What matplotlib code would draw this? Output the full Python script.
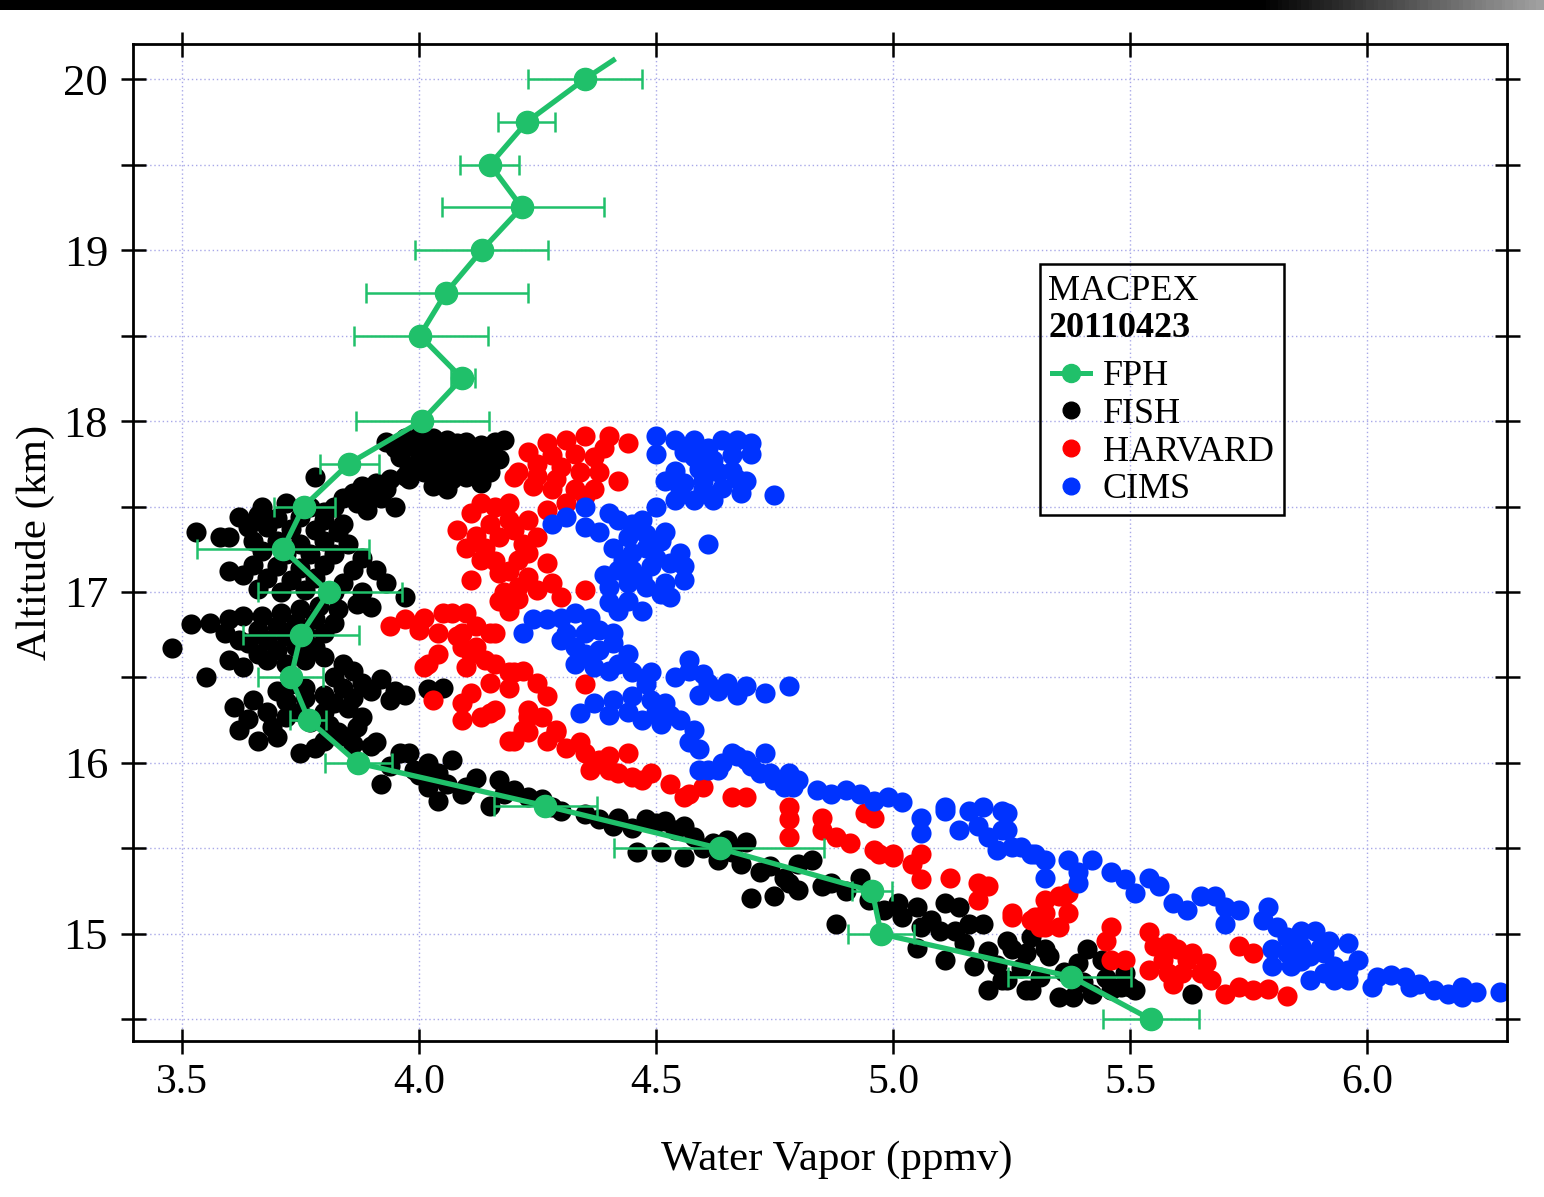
import matplotlib.pyplot as plt
import numpy as np
from matplotlib.colors import LinearSegmentedColormap
from matplotlib.lines import Line2D
from matplotlib.patches import Rectangle

plt.rcParams['font.family'] = ['Liberation Serif', 'DejaVu Serif']

# FPH frost point hygrometer profile: altitude (km), water vapor (ppmv), error bar bounds
fph_alt = [14.5, 14.75, 15.0, 15.25, 15.5, 15.75, 16.0, 16.25, 16.5, 16.75, 17.0, 17.25,
           17.5, 17.75, 18.0, 18.25, 18.5, 18.75, 19.0, 19.25, 19.5, 19.75, 20.0]
fph_wv = [5.544, 5.376, 4.975, 4.956, 4.635, 4.266, 3.871, 3.768, 3.730, 3.751, 3.810, 3.713,
          3.757, 3.852, 4.006, 4.091, 4.002, 4.057, 4.133, 4.217, 4.150, 4.228, 4.350]
fph_lo = [5.443, 5.243, 4.905, 4.913, 4.411, 4.158, 3.802, 3.728, 3.660, 3.629, 3.660, 3.532,
          3.694, 3.791, 3.867, 4.068, 3.863, 3.888, 3.992, 4.049, 4.087, 4.167, 4.230]
fph_hi = [5.646, 5.502, 5.044, 4.998, 4.854, 4.376, 3.943, 3.804, 3.797, 3.873, 3.964, 3.895,
          3.823, 3.916, 4.148, 4.118, 4.146, 4.230, 4.272, 4.390, 4.211, 4.287, 4.470]
# line continues above the last binned point
fph_top_wv = 4.41
fph_top_alt = 20.11

# FISH (water vapor ppmv, altitude km)
fish = [
    (3.93, 17.88), (3.97, 17.90), (4.00, 17.91), (4.03, 17.90), (4.06, 17.89), (4.10, 17.88),
    (4.13, 17.86), (4.16, 17.88), (4.18, 17.89), (3.95, 17.84), (3.99, 17.85), (4.02, 17.83),
    (4.05, 17.84), (4.08, 17.82), (4.11, 17.80), (4.14, 17.81), (4.17, 17.78), (3.96, 17.79),
    (4.00, 17.77), (4.03, 17.76), (4.06, 17.74), (4.09, 17.75), (4.12, 17.73), (4.15, 17.70),
    (3.98, 17.72), (4.01, 17.70), (4.04, 17.68), (4.07, 17.66), (4.10, 17.67), (4.13, 17.64),
    (4.03, 17.62), (4.06, 17.60), (4.08, 17.87), (4.01, 17.80), (4.07, 17.78), (3.98, 17.66),
    (3.97, 17.68), (3.94, 17.66), (3.91, 17.64), (3.88, 17.62), (3.86, 17.58), (3.90, 17.58),
    (3.93, 17.60), (3.84, 17.55), (3.87, 17.52), (3.92, 17.55), (3.95, 17.50), (3.82, 17.50),
    (3.80, 17.47), (3.78, 17.67), (3.89, 17.48),
    (3.67, 17.50), (3.72, 17.52), (3.77, 17.50), (3.62, 17.44), (3.66, 17.45), (3.70, 17.43),
    (3.75, 17.44), (3.80, 17.42), (3.84, 17.40), (3.64, 17.38), (3.68, 17.38), (3.73, 17.37),
    (3.78, 17.36), (3.83, 17.35), (3.60, 17.32), (3.65, 17.30), (3.70, 17.30), (3.75, 17.28),
    (3.80, 17.30), (3.85, 17.28), (3.67, 17.24), (3.72, 17.22), (3.77, 17.22), (3.82, 17.22),
    (3.88, 17.20), (3.65, 17.16), (3.70, 17.15), (3.75, 17.14), (3.80, 17.16), (3.86, 17.13),
    (3.91, 17.13), (3.63, 17.10), (3.68, 17.08), (3.73, 17.07), (3.78, 17.08), (3.84, 17.05),
    (3.93, 17.05), (3.97, 16.97), (3.66, 17.02), (3.71, 17.00), (3.76, 17.01), (3.82, 17.00),
    (3.88, 17.00), (3.60, 17.12), (3.53, 17.35), (3.58, 17.32),
    (3.52, 16.81), (3.48, 16.67), (3.56, 16.82), (3.60, 16.84), (3.63, 16.86), (3.67, 16.86),
    (3.71, 16.88), (3.75, 16.90), (3.79, 16.92), (3.83, 16.90), (3.87, 16.93), (3.90, 16.91),
    (3.59, 16.76), (3.62, 16.72), (3.66, 16.78), (3.70, 16.80), (3.74, 16.82), (3.78, 16.84),
    (3.82, 16.82), (3.60, 16.60), (3.64, 16.70), (3.68, 16.72), (3.72, 16.74), (3.76, 16.76),
    (3.80, 16.76), (3.63, 16.56), (3.66, 16.64), (3.70, 16.66), (3.74, 16.68), (3.78, 16.68),
    (3.68, 16.60), (3.72, 16.58), (3.76, 16.60), (3.80, 16.62), (3.55, 16.50), (3.84, 16.58),
    (3.82, 16.50), (3.86, 16.54),
    (3.61, 16.33), (3.62, 16.19), (3.66, 16.13), (3.65, 16.37), (3.64, 16.26), (3.69, 16.21),
    (3.68, 16.30), (3.72, 16.36), (3.72, 16.27), (3.75, 16.30), (3.76, 16.38), (3.80, 16.40),
    (3.84, 16.44), (3.86, 16.38), (3.88, 16.47), (3.92, 16.49), (3.90, 16.42), (3.94, 16.37),
    (3.95, 16.42), (3.97, 16.40), (4.02, 16.43), (4.05, 16.44), (3.82, 16.35), (3.85, 16.32),
    (3.80, 16.30), (3.77, 16.24), (3.81, 16.22), (3.84, 16.16), (3.80, 16.13), (3.87, 16.21),
    (3.91, 16.12), (3.75, 16.06), (3.78, 16.09), (3.76, 16.44), (3.73, 16.46), (3.70, 16.42),
    (3.88, 16.27), (3.70, 16.15),
    (3.83, 16.18), (3.86, 16.11), (3.90, 16.10), (3.92, 15.88), (3.96, 16.06), (3.98, 16.06),
    (3.99, 15.96), (4.02, 16.00), (4.02, 15.86), (4.04, 15.94), (4.04, 15.78), (4.07, 16.02),
    (4.09, 15.82), (4.12, 15.91), (4.15, 15.75), (4.17, 15.90), (4.18, 15.82), (4.26, 15.79),
    (4.28, 15.74), (4.35, 15.70), (4.42, 15.68), (4.41, 15.63), (4.46, 15.48), (4.48, 15.67),
    (4.51, 15.48), (4.50, 15.65), (4.54, 15.61), (4.52, 15.66), (4.56, 15.63), (4.56, 15.45),
    (4.65, 15.55), (4.69, 15.54), (4.63, 15.43), (4.68, 15.41), (4.70, 15.21), (4.75, 15.22),
    (4.72, 15.36), (4.77, 15.33), (4.80, 15.26), (4.83, 15.43), (4.80, 15.41), (4.87, 15.30),
    (4.88, 15.06), (4.93, 15.33), (4.98, 15.14), (5.01, 15.18), (5.05, 15.16), (5.05, 14.92),
    (5.08, 15.08), (5.11, 15.18), (5.14, 15.16), (5.13, 15.02), (5.16, 15.06), (5.19, 15.06),
    (5.11, 14.85), (5.17, 14.81), (5.20, 14.67), (5.23, 14.73), (5.25, 14.91), (5.28, 14.89),
    (5.29, 14.67), (5.32, 14.91), (5.35, 14.63), (5.38, 14.63), (5.41, 14.91), (5.39, 14.83),
    (5.42, 14.65), (5.24, 14.96), (5.29, 14.98), (5.24, 14.73), (5.28, 14.67), (5.33, 14.87),
    (5.44, 14.85), (5.46, 14.67), (5.48, 14.69), (5.49, 14.77), (5.50, 14.69), (5.51, 14.67),
    (5.63, 14.65),
    (3.94, 15.98), (4.00, 15.93), (4.06, 15.88), (4.10, 15.86), (4.20, 15.84), (4.23, 15.80),
    (4.30, 15.72), (4.38, 15.67), (4.45, 15.62), (4.58, 15.57), (4.60, 15.50), (4.62, 15.53),
    (4.66, 15.48), (4.74, 15.40), (4.78, 15.30), (4.85, 15.28), (4.90, 15.25), (4.95, 15.20),
    (5.02, 15.10), (5.06, 15.04), (5.10, 15.02), (5.15, 14.95), (5.20, 14.90), (5.22, 14.82),
    (5.27, 14.80), (5.31, 14.75), (5.36, 14.78), (5.40, 14.72), (5.45, 14.74),
]

# HARVARD (water vapor ppmv, altitude km)
harvard = [
    (4.27, 17.87), (4.31, 17.89), (4.35, 17.91), (4.40, 17.91), (4.44, 17.87), (4.42, 17.65),
    (4.33, 17.81), (4.37, 17.79), (4.38, 17.70), (4.34, 17.70), (4.30, 17.73), (4.25, 17.75),
    (4.21, 17.70), (4.20, 17.67), (4.24, 17.62), (4.28, 17.60), (4.33, 17.60), (4.37, 17.60),
    (4.31, 17.52), (4.35, 17.56), (4.28, 17.80), (4.23, 17.82), (4.39, 17.84), (4.29, 17.66),
    (4.25, 17.68),
    (4.08, 17.36), (4.10, 17.26), (4.11, 17.46), (4.13, 17.52), (4.16, 17.50), (4.19, 17.52),
    (4.11, 17.07), (4.14, 17.26), (4.13, 17.19), (4.17, 17.32), (4.19, 17.42), (4.23, 17.42),
    (4.25, 17.32), (4.23, 17.23), (4.17, 17.11), (4.17, 16.95), (4.19, 16.89), (4.21, 17.03),
    (4.23, 17.09), (4.25, 17.01), (4.28, 17.05), (4.30, 16.97), (4.27, 17.48), (4.27, 17.17),
    (4.35, 17.01), (4.21, 17.19), (4.15, 17.40), (4.12, 17.33), (4.20, 17.36), (4.22, 17.28),
    (4.16, 17.18), (4.19, 17.12), (4.21, 16.96), (4.18, 17.00),
    (3.94, 16.80), (3.97, 16.84), (4.01, 16.85), (4.05, 16.88), (4.10, 16.88), (4.00, 16.78),
    (4.04, 16.76), (4.08, 16.74), (4.12, 16.80), (4.16, 16.76), (4.12, 16.68), (4.01, 16.56),
    (4.04, 16.64), (4.09, 16.68), (4.11, 16.64), (4.10, 16.56), (4.14, 16.60), (4.16, 16.58),
    (4.02, 16.58), (4.07, 16.88), (4.09, 16.76), (4.15, 16.76), (4.03, 16.37), (4.11, 16.41),
    (4.15, 16.47), (4.19, 16.53), (4.09, 16.25), (4.13, 16.27), (4.16, 16.31), (4.19, 16.13),
    (4.22, 16.19), (4.23, 16.27), (4.09, 16.35), (4.15, 16.29), (4.19, 16.44), (4.20, 16.53),
    (4.22, 16.54), (4.25, 16.47), (4.27, 16.39), (4.23, 16.31), (4.26, 16.27), (4.20, 16.13),
    (4.23, 16.18), (4.27, 16.13), (4.29, 16.19), (4.31, 16.09), (4.34, 16.12), (4.35, 16.06),
    (4.38, 16.02), (4.40, 15.96), (4.44, 16.06), (4.42, 15.94), (4.47, 15.90), (4.49, 15.94),
    (4.53, 15.88), (4.57, 15.82), (4.60, 15.86), (4.66, 15.80), (4.69, 15.80), (4.35, 16.46),
    (4.29, 16.18), (4.36, 15.96), (4.40, 16.04), (4.45, 15.92), (4.56, 15.80),
    (4.78, 15.74), (4.78, 15.67), (4.78, 15.57), (4.85, 15.68), (4.85, 15.61), (4.88, 15.57),
    (4.91, 15.53), (4.94, 15.71), (4.96, 15.68), (4.97, 15.47), (5.00, 15.47), (5.06, 15.47),
    (4.96, 15.49), (5.00, 15.45), (5.04, 15.41), (5.06, 15.32), (5.12, 15.33), (5.18, 15.30),
    (5.20, 15.28), (5.18, 15.20), (5.25, 15.12), (5.29, 15.08), (5.32, 15.20), (5.35, 15.22),
    (5.37, 15.24), (5.37, 15.12), (5.32, 15.04), (5.35, 15.04), (5.32, 15.12), (5.36, 15.22),
    (5.25, 15.10), (5.30, 15.10), (5.31, 15.04), (5.46, 15.04), (5.45, 14.96), (5.46, 14.85),
    (5.49, 14.85), (5.54, 15.01), (5.55, 14.93), (5.58, 14.95), (5.57, 14.85), (5.60, 14.91),
    (5.62, 14.85), (5.63, 14.89), (5.66, 14.83), (5.58, 14.77), (5.61, 14.77), (5.65, 14.77),
    (5.59, 14.71), (5.67, 14.73), (5.70, 14.65), (5.73, 14.69), (5.76, 14.67), (5.79, 14.68),
    (5.83, 14.64), (5.54, 14.79), (5.73, 14.93), (5.76, 14.89),
]

# CIMS (water vapor ppmv, altitude km)
cims = [
    (4.50, 17.91), (4.50, 17.81), (4.54, 17.89), (4.58, 17.89), (4.64, 17.89), (4.67, 17.89),
    (4.70, 17.87), (4.70, 17.81), (4.69, 17.65), (4.66, 17.71), (4.62, 17.77), (4.58, 17.79),
    (4.54, 17.71), (4.52, 17.65), (4.56, 17.64), (4.60, 17.65), (4.64, 17.61), (4.68, 17.58),
    (4.62, 17.54), (4.58, 17.54), (4.54, 17.54), (4.50, 17.50), (4.75, 17.57), (4.61, 17.84),
    (4.66, 17.80), (4.63, 17.70), (4.59, 17.72), (4.67, 17.66), (4.60, 17.60), (4.55, 17.60),
    (4.56, 17.82),
    (4.28, 17.40), (4.31, 17.44), (4.35, 17.50), (4.35, 17.38), (4.40, 17.46), (4.42, 17.42),
    (4.45, 17.40), (4.47, 17.42), (4.52, 17.35), (4.55, 17.23), (4.51, 17.30), (4.61, 17.28),
    (4.41, 17.26), (4.45, 17.23), (4.48, 17.26), (4.42, 17.13), (4.45, 17.13), (4.49, 17.15),
    (4.53, 17.17), (4.56, 17.15), (4.56, 17.07), (4.52, 17.05), (4.48, 17.03), (4.44, 17.05),
    (4.40, 17.03), (4.40, 16.94), (4.44, 16.95), (4.47, 16.89), (4.42, 16.89), (4.51, 16.99),
    (4.53, 16.97), (4.38, 17.35), (4.44, 17.32), (4.48, 17.34), (4.43, 17.19), (4.50, 17.20),
    (4.47, 17.08), (4.39, 17.10),
    (4.22, 16.76), (4.24, 16.84), (4.27, 16.84), (4.30, 16.85), (4.33, 16.88), (4.36, 16.85),
    (4.31, 16.76), (4.35, 16.76), (4.38, 16.78), (4.41, 16.76), (4.33, 16.68), (4.35, 16.64),
    (4.38, 16.66), (4.41, 16.70), (4.44, 16.64), (4.33, 16.58), (4.37, 16.56), (4.40, 16.54),
    (4.42, 16.58), (4.45, 16.53), (4.49, 16.53), (4.54, 16.50), (4.57, 16.54), (4.61, 16.47),
    (4.65, 16.47), (4.69, 16.45), (4.73, 16.41), (4.78, 16.45), (4.34, 16.29), (4.37, 16.35),
    (4.41, 16.37), (4.45, 16.39), (4.49, 16.37), (4.52, 16.35), (4.47, 16.25), (4.51, 16.23),
    (4.55, 16.25), (4.58, 16.19), (4.57, 16.12), (4.59, 16.08), (4.61, 15.96), (4.64, 16.00),
    (4.66, 16.06), (4.69, 16.02), (4.72, 15.94), (4.75, 15.90), (4.78, 15.94), (4.79, 15.86),
    (4.40, 16.28), (4.44, 16.30), (4.50, 16.30), (4.53, 16.28), (4.59, 16.40), (4.63, 16.42),
    (4.67, 16.40), (4.57, 16.60), (4.60, 16.52), (4.30, 16.72), (4.48, 16.46),
    (4.59, 15.96), (4.63, 15.96), (4.67, 16.04), (4.70, 15.98), (4.73, 16.06), (4.74, 15.94),
    (4.77, 15.86), (4.80, 15.90), (4.84, 15.84), (4.87, 15.82), (4.90, 15.84), (4.93, 15.82),
    (4.96, 15.78), (4.99, 15.80), (5.02, 15.77), (5.06, 15.68), (5.06, 15.59), (5.11, 15.72),
    (5.11, 15.74), (5.16, 15.72), (5.19, 15.74), (5.23, 15.72), (5.14, 15.61), (5.18, 15.63),
    (5.20, 15.57), (5.23, 15.61), (5.22, 15.49), (5.25, 15.51), (5.29, 15.47), (5.32, 15.43),
    (5.32, 15.33), (5.37, 15.43), (5.39, 15.36), (5.39, 15.30), (5.42, 15.43), (5.24, 15.71),
    (5.24, 15.61), (5.27, 15.51), (5.30, 15.47), (5.46, 15.36), (5.49, 15.32), (5.51, 15.24),
    (5.54, 15.33), (5.56, 15.28), (5.59, 15.18), (5.62, 15.14), (5.65, 15.22), (5.68, 15.22),
    (5.70, 15.16), (5.70, 15.06), (5.73, 15.14), (5.79, 15.16), (5.78, 15.08), (5.81, 15.04),
    (5.83, 14.98), (5.86, 15.02), (5.89, 15.02), (5.92, 14.96), (5.96, 14.95), (5.80, 14.91),
    (5.83, 14.89), (5.86, 14.93), (5.88, 14.87), (5.91, 14.89), (5.93, 14.81), (5.96, 14.79),
    (5.96, 14.73), (5.84, 14.81), (5.88, 14.73), (5.91, 14.77), (5.93, 14.73), (5.80, 14.81),
    (6.02, 14.75), (6.01, 14.69), (6.05, 14.76), (6.08, 14.75), (6.09, 14.69), (6.11, 14.71),
    (6.14, 14.67), (6.17, 14.65), (6.20, 14.63), (6.20, 14.69), (6.23, 14.66), (6.28, 14.66),
    (5.86, 14.84), (5.90, 14.92), (5.98, 14.85),
]

x_ticks = [3.5, 4.0, 4.5, 5.0, 5.5, 6.0]
y_ticks = [15, 16, 17, 18, 19, 20]
y_minor = [14.5, 15.5, 16.5, 17.5, 18.5, 19.5]

green = '#20c06a'
red = '#ff0000'
blue = '#0033ff'

fig = plt.figure(figsize=(15.44, 11.97), dpi=100)

# dark strip across the top of the slide
bar = fig.add_axes([0, 1 - 10 / 1197, 1, 10 / 1197])
strip = LinearSegmentedColormap.from_list(
    'strip', [(0, '#000000'), (0.82, '#000000'), (1, '#a0a0a0')])
bar.imshow(np.linspace(0, 1, 400).reshape(1, -1), aspect='auto', cmap=strip)
bar.axis('off')

ax = fig.add_axes([133 / 1544, 1 - 1041 / 1197, 1374 / 1544, 997 / 1197])

fx, fy = zip(*fish)
hx, hy = zip(*harvard)
cx, cy = zip(*cims)
ax.scatter(fx, fy, s=210, c='black', linewidths=0, zorder=2)
ax.scatter(hx, hy, s=210, c=red, linewidths=0, zorder=2)
ax.scatter(cx, cy, s=210, c=blue, linewidths=0, zorder=2)

wv = np.array(fph_wv)
xerr = [wv - np.array(fph_lo), np.array(fph_hi) - wv]
ax.plot(list(fph_wv) + [fph_top_wv], list(fph_alt) + [fph_top_alt],
        color=green, lw=3.8, zorder=4)
ax.errorbar(fph_wv, fph_alt, xerr=xerr, fmt='o', color=green, ms=16,
            elinewidth=1.8, capsize=7, capthick=1.8, zorder=5)

ax.set_xlim(3.397, 6.295)
ax.set_ylim(14.374, 20.205)
ax.set_xticks(x_ticks)
ax.set_xticklabels(['%.1f' % t for t in x_ticks])
ax.set_yticks(y_ticks)
ax.set_yticks(y_minor, minor=True)
ax.tick_params(which='both', direction='inout', length=18, width=1.8,
               top=True, right=True)
ax.tick_params(axis='x', labelsize=30, pad=7)
ax.tick_params(axis='y', labelsize=32, pad=9)
ax.grid(which='both', ls=(0, (1, 2)), color='#a8a8e8', lw=1)
ax.set_axisbelow(True)
for s in ax.spines.values():
    s.set_linewidth(2)

ax.set_xlabel('Water Vapor (ppmv)', fontsize=31, labelpad=28)
ax.xaxis.label.set_x(0.512)
ax.set_ylabel('Altitude (km)', fontsize=31, labelpad=6)

# legend box with campaign / date header
ax.add_patch(Rectangle((0.660, 0.528), 0.178, 0.251, transform=ax.transAxes,
                       fill=False, lw=1.8, ec='black', zorder=6))
ax.text(0.666, 0.743, 'MACPEX', transform=ax.transAxes, fontsize=26,
        va='baseline', zorder=7)
ax.text(0.666, 0.706, '20110423', transform=ax.transAxes, fontsize=26,
        fontweight='bold', va='baseline', zorder=7)
handles = [
    Line2D([], [], color=green, lw=3.6, marker='o', ms=13),
    Line2D([], [], ls='', marker='o', color='black', ms=12),
    Line2D([], [], ls='', marker='o', color=red, ms=12),
    Line2D([], [], ls='', marker='o', color=blue, ms=12),
]
leg = ax.legend(handles, ['FPH', 'FISH', 'HARVARD', 'CIMS'], loc='upper left',
                bbox_to_anchor=(0.669, 0.683), fontsize=26, frameon=False,
                borderpad=0, borderaxespad=0, labelspacing=0.12,
                handlelength=1.05, handletextpad=0.35)
leg.set_zorder(7)

fig.savefig('out.png', dpi=100)
